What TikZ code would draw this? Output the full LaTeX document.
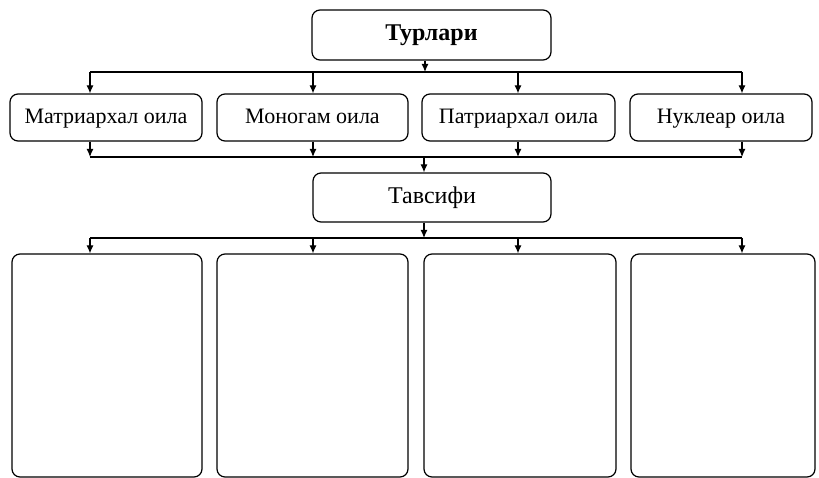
\documentclass[tikz,border=0pt]{standalone}
\usepackage{fontspec}
\setmainfont{Liberation Serif}
\usetikzlibrary{calc, arrows.meta}

\begin{document}
\begin{tikzpicture}[x=1pt, y=-1pt, line width=1.2pt, >={Latex[length=8pt, width=7pt]},
  box/.style={draw, rounded corners=8pt, inner sep=0pt, text height=17pt, text depth=5pt, font=\fontsize{22}{26}\selectfont}]
  \useasboundingbox (0, 0) rectangle (819, 478);
% turlari
  \draw (431.5, 35) node[box, minimum width=239pt, minimum height=50pt, font=\fontsize{24}{28}\selectfont\bfseries] (turlar) {Турлари};
  \foreach \i/\x/\w/\t in {1/106/192/Матриархал оила, 2/312.5/191/Моногам оила, 3/518.5/193/Патриархал оила, 4/721/182/Нуклеар оила}{
    \draw (\x, 117.5) node[box, minimum width=\w pt, minimum height=47pt] (oila\i) {\t};
  }
% tavsifi
  \draw (432, 197.5) node[box, minimum width=238pt, minimum height=49pt, font=\fontsize{24}{28}\selectfont] (tavsif) {Тавсифи};
  \foreach \i/\x/\w in {1/107/190, 2/312.5/191, 3/520/192, 4/723/184}{
    \draw (\x, 365.5) node[box, minimum width=\w pt, minimum height=223pt] (bosh\i) {};
  }

  \coordinate (t1) at (425, 72);
  \coordinate (t2) at (424, 157);
  \coordinate (t3) at (424, 238);
  \draw[->] (turlar.south -| t1) -- (t1);
  \draw[->] (t2) -- (t2 |- tavsif.north);
  \draw[->] (tavsif.south -| t3) -- (t3);
  \foreach \i/\x in {1/90, 2/313, 3/518, 4/742}{
    \coordinate (u\i) at (\x, 72);
    \coordinate (d\i) at (\x, 157);
    \coordinate (v\i) at (\x, 238);
    \draw[->] (u\i) -- (u\i |- oila\i.north);
    \draw[->] (d\i |- oila\i.south) -- (d\i);
    \draw[->] (v\i) -- (v\i |- bosh\i.north);
  }
  \draw (u1) -- (u4);
  \draw (d1) -- (d4);
  \draw (v1) -- (v4);
\end{tikzpicture}
\end{document}
